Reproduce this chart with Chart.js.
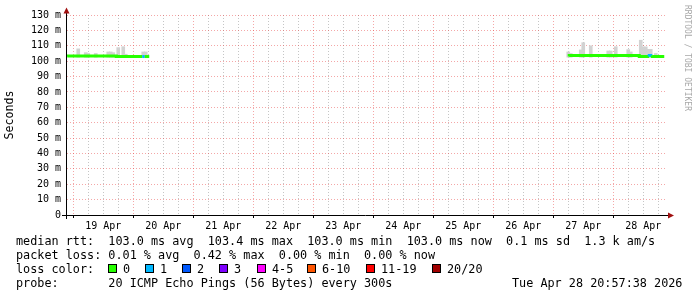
<!DOCTYPE html>
<html>
<head>
<meta charset="utf-8">
<title>Smokeping - 10 days</title>
<script src="https://cdn.jsdelivr.net/npm/chart.js@4/dist/chart.umd.min.js"></script>
<style>
  body { margin: 0; background: #fff; }
  #wrap { position: relative; width: 697px; height: 297px; overflow: hidden; background: #fff; }
  #chart-box { position: absolute; left: 0; top: 0; width: 697px; height: 297px; }
  .t { position: absolute; font-family: "DejaVu Sans Mono", monospace; font-size: 11.8px; line-height: 14px; color: #000; white-space: pre; }
  .box { position: absolute; top: 264px; width: 7px; height: 7px; border: 1px solid #000; }
  #credit { position: absolute; left: 682px; top: 5px; writing-mode: vertical-rl; font-family: "DejaVu Sans Mono", monospace; font-size: 8px; line-height: 10px; color: #a8a8a8; white-space: pre; }
</style>
</head>
<body>
<div id="wrap">
  <div id="chart-box"><canvas id="chart"></canvas></div>
  <div id="credit">RRDTOOL / TOBI OETIKER</div>
  <div id="legend"></div>
</div>
<script>
// x values are hours since 19 Apr 00:00
const dayLabels = ['19 Apr', '20 Apr', '21 Apr', '22 Apr', '23 Apr', '24 Apr', '25 Apr', '26 Apr', '27 Apr', '28 Apr'];

// median rtt (ms), stepped; null breaks the line where there is no data
const rttHours  = [-2.4, 17.2, 17.8, 27.6, 28.6, 30.4, 31, 198.4, 226.4, 227.6, 230.4, 231.6, 232.4, 236.4];
const rttMedian = [103.0, 103.4, 103.0, 103.0, 103.0, 103.0, null, 103.0, 103.6, 103.0, 103.0, 103.6, 103.0, 103.0];
const rttLoss   = [0, 0, 0, 1, 0, 0, 0, 0, 0, 0, 1, 0, 0, 0];

// smoke (spread of the pings, ms)
const smokeHours = [2, 5, 6, 9, 14, 15, 16, 18, 20, 21, 28, 29, 198, 199, 203, 204, 207, 214, 215, 217, 222, 223, 227, 228, 229, 230, 231, 233];
const smokeLow   = [102.6, 102.6, 102.6, 102.6, 102.6, 102.6, 102.6, 102.6, 102.6, 102.6, 102.6, 102.6, 102.6, 102.6,
                    102.6, 102.6, 102.6, 102.6, 102.6, 102.6, 102.6, 102.6, 102.6, 102.6, 102.6, 102.6, 102.6, 102.6];
const smokeHigh  = [108.0, 105.5, 105.0, 105.0, 106.0, 106.0, 105.5, 108.8, 109.4, 104.5, 106.0, 106.0, 106.0, 105.0,
                    107.3, 112.0, 110.0, 106.6, 106.6, 109.4, 107.5, 106.0, 113.6, 109.3, 109.3, 107.7, 107.7, 105.0];

const lossColors = ['#26ff00', '#00b8ff', '#0059ff', '#7e00ff', '#ff00ff', '#ff5500', '#ff0000', '#a10000'];
const lossNames  = ['0', '1', '2', '3', '4-5', '6-10', '11-19', '20/20'];

const MAJOR = 'rgba(230, 60, 60, 0.45)';
const MINOR = 'rgba(150, 150, 150, 0.55)';
const MONO = '"DejaVu Sans Mono", monospace';

function qs(id) { return document.getElementById(id); }

// ----- legend text under the graph -----
function addText(x, y, txt) {
  const el = document.createElement('div');
  el.className = 't';
  el.style.left = x + 'px';
  el.style.top = y + 'px';
  el.textContent = txt;
  qs('legend').appendChild(el);
}

function buildLegend() {
  addText(16, 234, 'median rtt:  103.0 ms avg  103.4 ms max  103.0 ms min  103.0 ms now  0.1 ms sd  1.3 k am/s');
  addText(16, 248, 'packet loss: 0.01 % avg  0.42 % max  0.00 % min  0.00 % now');

  addText(16, 262, 'loss color:');
  const boxX = [108, 145, 182, 219, 257, 307, 366, 432];
  lossNames.forEach((name, i) => {
    const b = document.createElement('div');
    b.className = 'box';
    b.style.left = boxX[i] + 'px';
    b.style.background = lossColors[i];
    qs('legend').appendChild(b);
    addText(boxX[i] + 15, 262, name);
  });

  addText(16, 276, 'probe:       20 ICMP Echo Pings (56 Bytes) every 300s');
  addText(512, 276, 'Tue Apr 28 20:57:38 2026');
}

// ----- axis lines with rrdtool style arrows -----
const axisArrows = {
  id: 'axisArrows',
  afterDraw(chart) {
    const { ctx, chartArea: a } = chart;
    const ax = a.left - 0.5;
    const ay = a.bottom + 0.5;
    ctx.save();
    ctx.strokeStyle = '#000';
    ctx.lineWidth = 1;
    ctx.beginPath();
    ctx.moveTo(a.left - 5, ay);
    ctx.lineTo(a.right + 2, ay);
    ctx.moveTo(ax, a.bottom + 4);
    ctx.lineTo(ax, a.top - 3);
    ctx.stroke();
    ctx.fillStyle = '#a01010';
    ctx.beginPath();
    ctx.moveTo(ax, a.top - 7.5);
    ctx.lineTo(ax - 3, a.top - 1.5);
    ctx.lineTo(ax + 3, a.top - 1.5);
    ctx.closePath();
    ctx.fill();
    ctx.beginPath();
    ctx.moveTo(a.right + 7, ay);
    ctx.lineTo(a.right + 1, ay - 3);
    ctx.lineTo(a.right + 1, ay + 3);
    ctx.closePath();
    ctx.fill();
    ctx.restore();
  },
};

function initChart() {
  const gridHours = [];
  for (let h = 0; h < 240; h += 6) gridHours.push(h);

  const rttPoints = rttHours.map((h, i) => ({ x: h, y: rttMedian[i] }));
  const smokePoints = smokeHours.map((h, i) => ({ x: h, y: [smokeLow[i], smokeHigh[i]] }));

  new Chart(qs('chart').getContext('2d'), {
    data: {
      datasets: [
        {
          type: 'line',
          label: 'median rtt',
          data: rttPoints,
          order: 0,
          stepped: 'after',
          spanGaps: false,
          borderWidth: 3,
          borderColor: lossColors[0],
          borderCapStyle: 'butt',
          pointRadius: 0,
          segment: {
            borderColor: (c) => lossColors[rttLoss[c.p0DataIndex]],
          },
        },
        {
          type: 'bar',
          label: 'smoke',
          data: smokePoints,
          order: 1,
          grouped: false,
          barThickness: 3,
          borderWidth: 0,
          backgroundColor: '#d2d2d2',
        },
      ],
    },
    options: {
      responsive: true,
      maintainAspectRatio: false,
      animation: false,
      events: [],
      layout: { padding: { left: 0, top: 15, right: 30, bottom: 0 } },
      plugins: { legend: { display: false }, tooltip: { enabled: false } },
      scales: {
        x: {
          type: 'linear',
          min: -2.5,
          max: 237.5,
          offset: false,
          afterBuildTicks: (scale) => { scale.ticks = gridHours.map(v => ({ value: v })); },
          afterFit: (scale) => { scale.height = 82; },
          ticks: {
            autoSkip: false,
            maxRotation: 0,
            minRotation: 0,
            padding: 2,
            color: '#000',
            font: { family: MONO, size: 10 },
            callback: (v) => (v % 24 === 12 ? dayLabels[(v - 12) / 24] : ''),
          },
          grid: {
            offset: false,
            color: (c) => (c.tick && c.tick.value % 24 === 0 ? MAJOR : MINOR),
            tickColor: (c) => (c.tick && c.tick.value % 24 === 0 ? '#000' : 'rgba(0,0,0,0)'),
            tickLength: 3,
            lineWidth: 1,
          },
          border: { display: false, dash: [1, 2] },
        },
        y: {
          min: 0,
          max: 130,
          afterFit: (scale) => { scale.width = 67; },
          ticks: {
            stepSize: 5,
            padding: 6,
            color: '#000',
            font: { family: MONO, size: 10 },
            callback: (v) => (v % 10 !== 0 ? '' : (v === 0 ? '0' : v + ' m')),
          },
          grid: {
            color: (c) => (c.tick && c.tick.value % 10 === 0 ? MAJOR : MINOR),
            drawTicks: false,
            lineWidth: 1,
          },
          border: { display: false, dash: [1, 2] },
          title: {
            display: true,
            text: 'Seconds',
            color: '#000',
            font: { family: MONO, size: 11.6 },
            padding: { top: 3, bottom: 0 },
          },
        },
      },
    },
    plugins: [axisArrows],
  });
}

window.addEventListener('DOMContentLoaded', () => {
  buildLegend();
  initChart();
});
</script>
</body>
</html>
